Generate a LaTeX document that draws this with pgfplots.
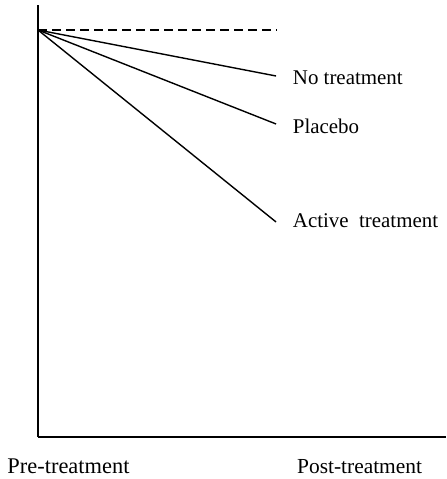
\documentclass[border=0pt]{standalone}
\usepackage{pgfplots}
\pgfplotsset{compat=1.18}
\usepackage{fontspec}
\setmainfont{Liberation Serif}
\begin{document}
\begin{tikzpicture}[x=1bp,y=1bp]
  \begin{axis}[
      scale only axis,
      width=408bp,
      height=432bp,
      xmin=0, xmax=1.714,
      ymin=0, ymax=432,
      axis lines=left,
      axis line style={-, line width=1.8bp},
      xtick=\empty,
      ytick=\empty,
      clip=false,
    ]
    % bounding box of the whole figure
    \path (axis cs:-0.1597,-42) rectangle (axis cs:1.714,437);
    \addplot[black, mark=none, line width=1.4bp, dash pattern=on 9bp off 5bp] coordinates {(0,407) (1,407)};
    \addplot[black, mark=none, line width=1.4bp] coordinates {(0,407) (1,361)};
    \addplot[black, mark=none, line width=1.4bp] coordinates {(0,407) (1,313)};
    \addplot[black, mark=none, line width=1.4bp] coordinates {(0,407) (1,215)};
    \node[anchor=west, font=\fontsize{21}{24}\selectfont, inner sep=0pt] at (axis cs:1.07,359) {No treatment};
    \node[anchor=west, font=\fontsize{21}{24}\selectfont, inner sep=0pt] at (axis cs:1.07,311) {Placebo};
    \node[anchor=west, font=\fontsize{21}{24}\selectfont, inner sep=0pt] at (axis cs:1.07,216) {Active\ \ treatment};
    \node[anchor=base, font=\fontsize{22.5}{25}\selectfont, inner sep=0pt] at (axis cs:0.128,-36) {Pre-treatment};
    \node[anchor=base, font=\fontsize{21.5}{25}\selectfont, inner sep=0pt] at (axis cs:1.351,-36) {Post-treatment};
  \end{axis}
\end{tikzpicture}
\end{document}
